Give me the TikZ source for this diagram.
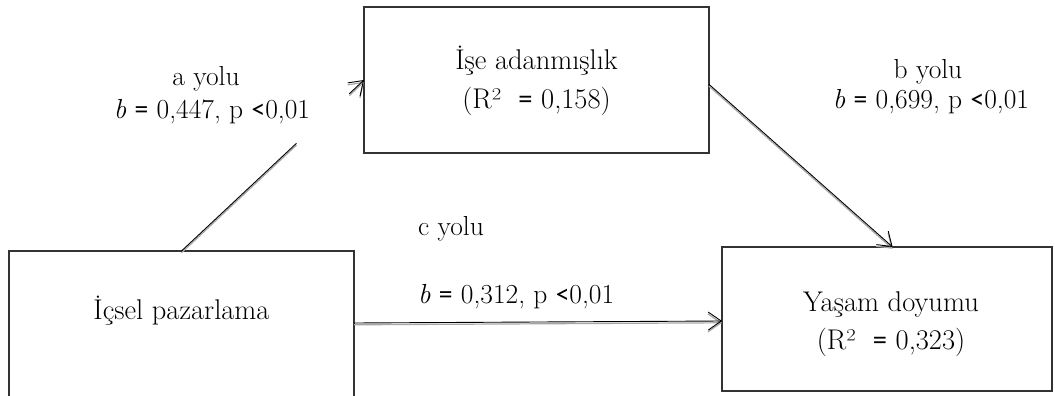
\documentclass[tikz,border=0pt]{standalone}
\usepackage{fontspec}
\newfontfamily\symf{Carlito}
\usetikzlibrary{arrows.meta,calc}
\newcommand\myeq{{\symf =}}
\newcommand\mylt{{\symf <}}
\begin{document}
\begin{tikzpicture}[x=1pt,y=-1pt,
  box/.style={draw=black!80, line width=1.4pt, rectangle, inner sep=0pt, outer sep=0pt},
  txt/.style={font=\fontsize{28.5}{34}\selectfont, inner sep=0pt, anchor=base},
  lbl/.style={font=\fontsize{27.5}{33}\selectfont, inner sep=0pt, anchor=base},
  conn/.style={draw=black, line width=0.9pt},
  connshadow/.style={draw=black!35, line width=1.2pt, transform canvas={yshift=-1.8pt}},
  tip/.style={-{Straight Barb[length=13pt,width=18pt]}}]
\clip (0,0) rectangle (1055,396);
\fill[white] (0,0) rectangle (1055,396);

% the three variables
\node[box, minimum width=345pt, minimum height=146pt] (med)  at (536.5,80) {};
\node[box, minimum width=345pt, minimum height=180pt] (xbox) at (181.5,341) {};
\node[box, minimum width=330pt, minimum height=144pt] (ybox) at (887,319) {};

\node[txt] (medt1) at (536.5,70)  {İşe adanmışlık};
\node[txt] (medt2) at (536.5,108) {(R²\ \ \myeq{} 0,158)};
\node[txt] (xt)    at (181.5,319) {İçsel pazarlama};
\node[txt] (yt1)   at (891,311)   {Yaşam doyumu};
\node[txt] (yt2)   at (891,349)   {(R²\ \ \myeq{} 0,323)};

% anchor points of the paths
\coordinate (aS) at (xbox.north);
\coordinate (aE) at (med.west);
\coordinate (aG1) at ($(aS)!0.63!(aE)$);
\coordinate (aG2) at ($(aS)!0.92!(aE)$);
\coordinate (bS) at ($(med.north east)!0.53!(med.south east)$);
\coordinate (bE) at ($(ybox.north west)!0.517!(ybox.north east)$);
\coordinate (cS) at ($(xbox.north east)+(0,72)$);
\coordinate (cE) at ($(ybox.west)+(0,2)$);

% path a (interrupted by its label)
\draw[connshadow] (aS) -- (aG1);
\draw[connshadow, tip] (aG2) -- (aE);
\draw[conn] (aS) -- (aG1);
\draw[conn, tip] (aG2) -- (aE);
% path b
\draw[connshadow, tip] (bS) -- (bE);
\draw[conn, tip] (bS) -- (bE);
% path c
\draw[connshadow, tip] (cS) -- (cE);
\draw[conn, tip] (cS) -- (cE);

% path labels
\node[lbl] (la1) at (206,85)  {a yolu};
\node[lbl] (la2) at (212,118) {\textit{b} \myeq{} 0,447, p \mylt0,01};
\node[lbl] (lb1) at (928,78)  {b yolu};
\node[lbl] (lb2) at (931,108) {\textit{b} \myeq{} 0,699, p \mylt0,01};
\node[lbl, anchor=base west] (lc1) at (418,235) {c yolu};
\node[lbl, anchor=base west] (lc2) at (418,303) {\textit{b} \myeq{} 0,312, p \mylt0,01};
\end{tikzpicture}
\end{document}
